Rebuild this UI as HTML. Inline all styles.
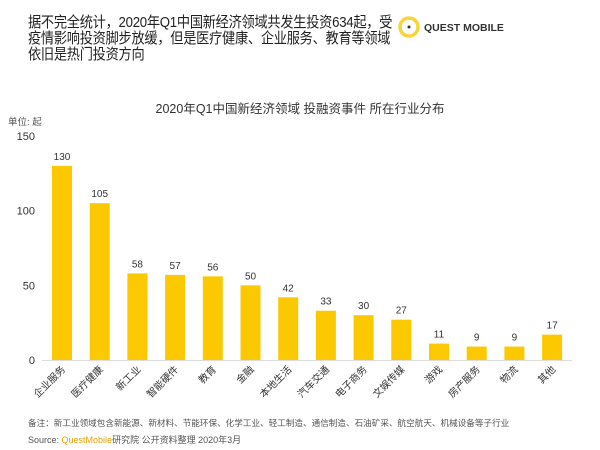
<!DOCTYPE html>
<html><head><meta charset="utf-8"><style>
body{margin:0;background:#fff;width:600px;height:450px;overflow:hidden;font-family:"Liberation Sans","Noto Sans CJK SC",sans-serif;}
.h{position:absolute;left:28px;top:15px;font-size:15px;line-height:16px;color:#222;white-space:nowrap;letter-spacing:-0.3px;transform:scaleX(0.88);transform-origin:0 0;}
</style></head><body>
<div class="h">据不完全统计，2020年Q1中国新经济领域共发生投资634起，受<br>疫情影响投资脚步放缓，但是医疗健康、企业服务、教育等领域<br>依旧是热门投资方向</div>
<svg width="600" height="450" style="position:absolute;left:0;top:0" id="c">
<g>
<circle cx="409" cy="27" r="9" fill="none" stroke="#f5d63a" stroke-width="3.5"/>
<circle cx="409" cy="27" r="1.5" fill="#333"/>
<text x="424" y="31" font-size="10.5" font-weight="bold" fill="#333" font-family="Liberation Sans,sans-serif">QUEST MOBILE</text>
</g>
<text x="300" y="113" text-anchor="middle" font-size="12.5" fill="#333">2020年Q1中国新经济领域 投融资事件 所在行业分布</text>
<text x="8" y="125" font-size="9.5" fill="#555">单位: 起</text>
<text x="28" y="426" font-size="8.6" fill="#555">备注：新工业领域包含新能源、新材料、节能环保、化学工业、轻工制造、通信制造、石油矿采、航空航天、机械设备等子行业</text>
<text x="28" y="443" font-size="9" fill="#555">Source:  <tspan fill="#e8a200">QuestMobile</tspan>研究院 公开资料整理 2020年3月</text>
<g id="plot"></g>
</svg>
<script>
const categories=["企业服务","医疗健康","新工业","智能硬件","教育","金融","本地生活","汽车交通","电子商务","文娱传媒","游戏","房产服务","物流","其他"];
const values=[130,105,58,57,56,50,42,33,30,27,11,9,9,17];
const ticks=[0,50,100,150];
const ns="http://www.w3.org/2000/svg";
const g=document.getElementById('plot');
const y0=360,k=(360-136)/150;
const y=v=>y0-v*k;
const x=i=>62+i*37.7;
function el(t,a){const e=document.createElementNS(ns,t);for(const n in a)e.setAttribute(n,a[n]);g.appendChild(e);return e;}
ticks.forEach(t=>{const e=el('text',{x:35,y:y(t)+4,'text-anchor':'end','font-size':11,fill:'#333'});e.textContent=t;

});
const ax=el('line',{x1:42,x2:572,y1:y0+0.5,y2:y0+0.5,stroke:'#ddd'});


values.forEach((v,i)=>{
const r=el('rect',{x:x(i)-10,y:y(v),width:20,height:v*k,fill:'#fcc800'});


const t=el('text',{x:x(i),y:y(v)-6,'text-anchor':'middle','font-size':10,fill:'#333'});t.textContent=v;


const c=el('text',{transform:`translate(${x(i)+4},${y0+10}) rotate(-45)`,'text-anchor':'end','font-size':10,fill:'#333'});c.textContent=categories[i];


});
</script>
</body></html>
